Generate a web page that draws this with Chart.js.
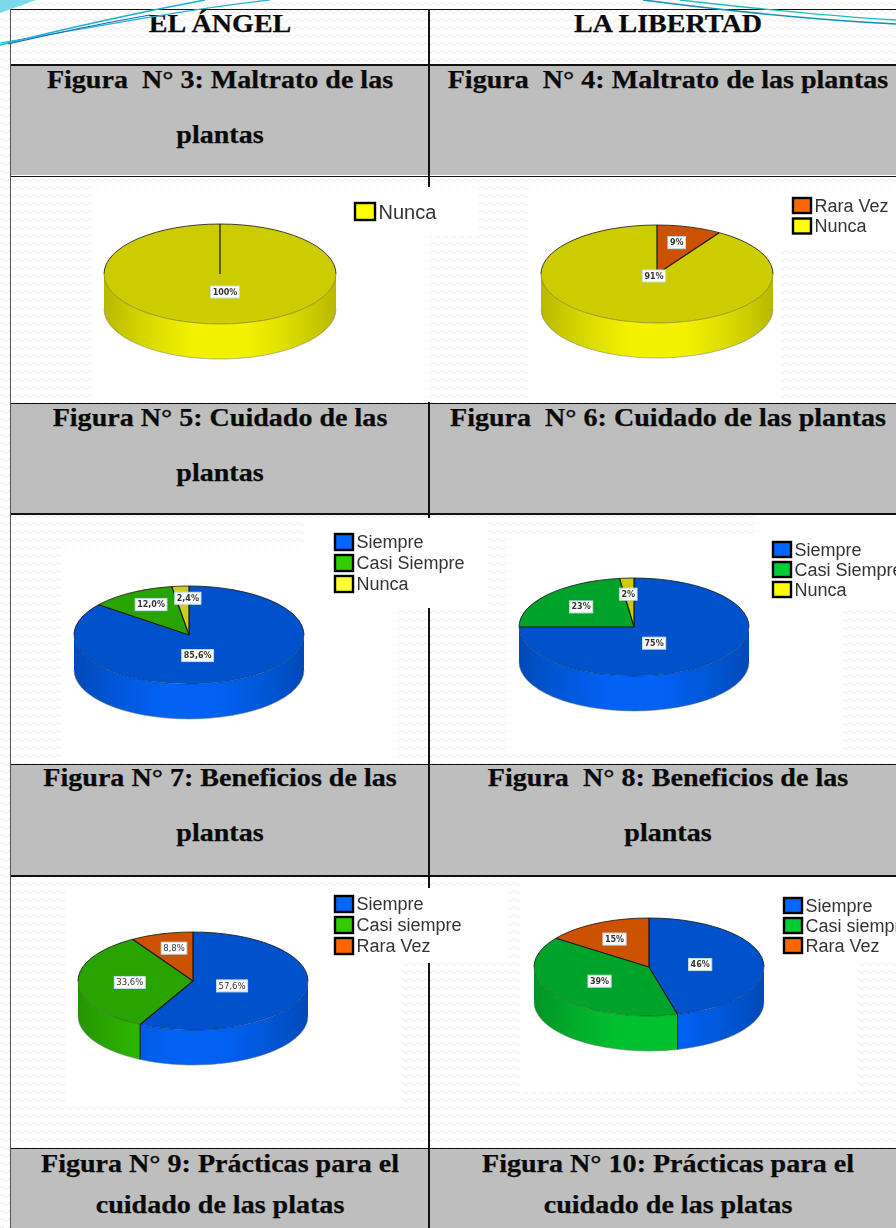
<!DOCTYPE html>
<html lang="es"><head><meta charset="utf-8">
<script src="https://cdn.jsdelivr.net/npm/chart.js@4/dist/chart.umd.min.js"></script>
<style>
html,body{margin:0;padding:0;width:896px;height:1228px;overflow:hidden;background:#fff}
#page{position:relative;width:896px;height:1228px;overflow:hidden;
background-image:url("data:image/svg+xml,%3Csvg xmlns='http://www.w3.org/2000/svg' width='8' height='8'%3E%3Cpath d='M0 4 Q2 1 4 4 T8 4' stroke='%23e9e9e9' stroke-width='1' fill='none'/%3E%3C/svg%3E")}
.abs{position:absolute}
.cap{position:absolute;white-space:pre;font:bold 25px "Liberation Serif",serif;color:#0a0a0a;line-height:30px;-webkit-text-stroke:.25px #0a0a0a;transform:translate(-50%,-50%) scaleX(1.122)}
canvas{position:absolute}
svg.deco{position:absolute;left:0;top:0}
</style></head><body><div id="page"></div>
<script>
// ---- data ----
const fig3Labels=["Nunca"];                       const fig3Values=[100];           const fig3Text=["100%"];
const fig4Labels=["Rara Vez","Nunca"];            const fig4Values=[9,91];          const fig4Text=["9%","91%"];
const fig5Labels=["Siempre","Casi Siempre","Nunca"]; const fig5Values=[85.6,12,2.4]; const fig5Text=["85,6%","12,0%","2,4%"];
const fig6Labels=["Siempre","Casi Siempre","Nunca"]; const fig6Values=[75,23,2];     const fig6Text=["75%","23%","2%"];
const fig7Labels=["Siempre","Casi siempre","Rara Vez"]; const fig7Values=[57.6,33.6,8.8]; const fig7Text=["57,6%","33,6%","8,8%"];
const fig8Labels=["Siempre","Casi siempre","Rara Vez"]; const fig8Values=[46,39,15];  const fig8Text=["46%","39%","15%"];
const headerTexts=["EL ÁNGEL","LA LIBERTAD"];
const captionTexts=[
 ["Figura  N° 3: Maltrato de las",220,80],["plantas",220,135],["Figura  N° 4: Maltrato de las plantas",668,80],
 ["Figura N° 5: Cuidado de las",220,418],["plantas",220,473],["Figura  N° 6: Cuidado de las plantas",668,418],
 ["Figura N° 7: Beneficios de las",220,778],["plantas",220,833],["Figura  N° 8: Beneficios de las",668,778],["plantas",668,833],
 ["Figura N° 9: Prácticas para el",220,1164],["cuidado de las platas",220,1205],
 ["Figura N° 10: Prácticas para el",668,1164],["cuidado de las platas",668,1205]
];
// ---- styling ----
const SIEMPRE="#0066ff",NUNCA="#ffff00",NUNCA2="#ffff33",RARA="#ff6600",CASI_A="#33cc00",CASI_B="#00cc33";
const layouts=[
 {labels:fig3Labels,values:fig3Values,text:fig3Text,colors:[NUNCA],cx:220,cy:274,rx:116,ry:50,legend:[354,202],step:20,lfont:20,swH:19,swW:22,
  anchors:[[.043,.36]],lab:"bold 8px 'DejaVu Sans'"},
 {labels:fig4Labels,values:fig4Values,text:fig4Text,colors:[RARA,NUNCA],cx:657,cy:274,rx:116,ry:49,legend:[792,197],step:20.5,lfont:18,swH:17,swW:20,
  anchors:[[.17,-.64],[-.026,.04]],lab:"bold 8px 'DejaVu Sans'"},
 {labels:fig5Labels,values:fig5Values,text:fig5Text,colors:[SIEMPRE,CASI_A,NUNCA2],cx:189,cy:635,rx:115,ry:49,legend:[334,533],step:21,lfont:18,swH:18,swW:20,
  anchors:[[.075,.42],[-.33,-.62],[-.01,-.75]],lab:"bold 8px 'DejaVu Sans'"},
 {labels:fig6Labels,values:fig6Values,text:fig6Text,colors:[SIEMPRE,CASI_B,NUNCA],cx:634,cy:627,rx:115,ry:49,legend:[772,541],step:20,lfont:18,swH:17,swW:20,
  anchors:[[.175,.33],[-.46,-.41],[-.05,-.67]],lab:"bold 8px 'DejaVu Sans'"},
 {labels:fig7Labels,values:fig7Values,text:fig7Text,colors:[SIEMPRE,CASI_A,RARA],cx:193,cy:981,rx:115,ry:49,legend:[334,895],step:21,lfont:18,swH:18,swW:20,
  anchors:[[.34,.1],[-.55,.03],[-.165,-.67]],lab:"8.5px 'DejaVu Sans'"},
 {labels:fig8Labels,values:fig8Values,text:fig8Text,colors:[SIEMPRE,CASI_B,RARA],cx:649,cy:967,rx:115,ry:49,legend:[783,897],step:20,lfont:18,swH:17,swW:20,
  anchors:[[.445,-.05],[-.43,.29],[-.3,-.57]],lab:"bold 8px 'DejaVu Sans'"}
];
const DEPTH=35,CW=600,CH=240;
const whiteRects=[[92,187,338,215],[340,187,139,49],[528,187,253,211],[781,187,115,61],
 [61,547,337,215],[303,518,185,90],[506,538,337,214],[754,515,142,93],
 [65,890,337,217],[310,888,198,75],[519,877,339,215],[858,877,38,86]];
const greyRows=[[64,111],[403,110],[764,111],[1148,80]];
const hLines=[8.5,64,175.5,402.5,513,763.5,875,1147.5];

function shade(hex,f){const n=parseInt(hex.slice(1),16);
 return `rgb(${Math.round((n>>16&255)*f)},${Math.round((n>>8&255)*f)},${Math.round((n&255)*f)})`;}
const page=document.getElementById("page");
function box(x,y,w,h,c){const d=document.createElement("div");d.className="abs";
 d.style.cssText=`left:${x}px;top:${y}px;width:${w}px;height:${h}px;background:${c}`;page.appendChild(d);}

greyRows.forEach(r=>box(10,r[0],886,r[1],"#bebebe"));
hLines.forEach(y=>box(10,y,886,1.5,"#111"));
box(10,8.5,1.2,1220,"#555");
box(428,8.5,2,1220,"#111");
whiteRects.forEach(r=>box(r[0],r[1],r[2],r[3],"#fff"));

function addCap(t,x,y){const d=document.createElement("div");d.className="cap";d.textContent=t;
 d.style.left=x+"px";d.style.top=y+"px";page.appendChild(d);}
addCap(headerTexts[0],220,24);addCap(headerTexts[1],668,24);
captionTexts.forEach(c=>addCap(c[0],c[1],c[2]));

page.insertAdjacentHTML("beforeend",`<svg class="deco" width="896" height="60" fill="none">
<path d="M0 0H36L0 13Z" fill="#7bd9e8"/>
<path d="M0 45C60 30 130 14 205 0" stroke="#1fb4cc" stroke-width="1.6"/>
<path d="M0 43C90 28 180 10 270 0" stroke="#1fb4cc" stroke-width="1.2"/>
<path d="M8 44C60 32 110 22 150 15" stroke="#1560c8" stroke-width="1.2"/>
<path d="M643 0C720 10 820 20 896 24" stroke="#1590b8" stroke-width="1.6"/>
<path d="M680 0C750 8 830 16 896 20" stroke="#1cc0b8" stroke-width="1.4"/>
</svg>`);

function pie3d(L){return {id:"pie3d",
 beforeDatasetsDraw(chart){
  const ctx=chart.ctx,arcs=chart.getDatasetMeta(0).data;
  arcs.forEach((arc,i)=>{
   const a=Math.max(arc.startAngle,0),b=Math.min(arc.endAngle,Math.PI);
   if(b<=a)return;
   const g=ctx.createLinearGradient(arc.x-L.rx,0,arc.x+L.rx,0),c=L.colors[i];
   [[0,.72],[.08,.78],[.2,.86],[.38,.95],[.62,.95],[.8,.86],[.92,.78],[1,.72]].forEach(s=>g.addColorStop(s[0],shade(c,s[1])));
   ctx.save();ctx.beginPath();
   ctx.ellipse(arc.x,arc.y,L.rx,L.ry,0,a,b);
   ctx.ellipse(arc.x,arc.y+DEPTH,L.rx,L.ry,0,b,a,true);
   ctx.closePath();ctx.fillStyle=g;ctx.fill();
   if(arc.startAngle>0&&arc.startAngle<Math.PI){
    const px=arc.x+L.rx*Math.cos(arc.startAngle),py=arc.y+L.ry*Math.sin(arc.startAngle);
    ctx.beginPath();ctx.moveTo(px,py);ctx.lineTo(px,py+DEPTH);ctx.strokeStyle="#111";ctx.lineWidth=1;ctx.stroke();
   }
   ctx.restore();
  });
  ctx.beginPath();ctx.ellipse(arcs[0].x,arcs[0].y+DEPTH,L.rx,L.ry,0,0,Math.PI);
  ctx.strokeStyle="rgba(120,120,120,.5)";ctx.lineWidth=1;ctx.stroke();
  ctx.save();
  ctx.translate(arcs[0].x,arcs[0].y);ctx.scale(1,L.ry/L.rx);ctx.translate(-arcs[0].x,-arcs[0].y);
 },
 afterDatasetsDraw(chart){
  const ctx=chart.ctx,arcs=chart.getDatasetMeta(0).data;
  ctx.restore();
  const cx=arcs[0].x,cy=arcs[0].y;
  ctx.save();
  ctx.beginPath();ctx.ellipse(cx,cy,L.rx,L.ry,0,Math.PI,2*Math.PI);ctx.strokeStyle="rgba(20,20,20,.8)";ctx.lineWidth=1;ctx.stroke();
  ctx.beginPath();ctx.ellipse(cx,cy,L.rx,L.ry,0,0,Math.PI);ctx.strokeStyle="rgba(20,20,20,.4)";ctx.lineWidth=.8;ctx.stroke();
  arcs.forEach(arc=>{
   ctx.beginPath();ctx.moveTo(cx,cy);
   ctx.lineTo(cx+L.rx*Math.cos(arc.startAngle),cy+L.ry*Math.sin(arc.startAngle));
   ctx.strokeStyle="#141414";ctx.lineWidth=1.2;ctx.stroke();
  });
  // value labels
  ctx.font=L.lab;ctx.textAlign="center";ctx.textBaseline="middle";
  L.text.forEach((t,i)=>{
   const x=cx+L.anchors[i][0]*L.rx,y=cy+L.anchors[i][1]*L.ry,w=ctx.measureText(t).width+4,h=12;
   ctx.fillStyle="#fff";ctx.fillRect(x-w/2,y-h/2,w,h);
   ctx.strokeStyle="#c5dfe6";ctx.lineWidth=1;ctx.strokeRect(x-w/2,y-h/2,w,h);
   ctx.fillStyle="#333";ctx.fillText(t,x,y+.5);
  });
  // legend
  const ox=L.legend[0]-(L.cx-CW/2),oy=L.legend[1]-(L.cy-CH/2);
  L.labels.forEach((t,i)=>{
   const y=oy+i*L.step;
   ctx.fillStyle=L.colors[i];ctx.fillRect(ox+1,y+1,L.swW-2,L.swH-2);
   ctx.strokeStyle="#000";ctx.lineWidth=2.4;ctx.strokeRect(ox+1,y+1,L.swW-2,L.swH-2);
   ctx.fillStyle="#333";ctx.font=L.lfont+"px 'Liberation Sans'";ctx.textAlign="left";ctx.textBaseline="middle";
   ctx.fillText(t,ox+L.swW+2.5,y+L.swH/2+1.5);
  });
  ctx.restore();
 }};}

layouts.forEach(L=>{
 const cv=document.createElement("canvas");cv.width=CW;cv.height=CH;
 cv.style.cssText=`left:${L.cx-CW/2}px;top:${L.cy-CH/2}px;width:${CW}px;height:${CH}px`;
 page.appendChild(cv);
 new Chart(cv.getContext("2d"),{type:"pie",
  data:{labels:L.labels,datasets:[{data:L.values,backgroundColor:L.colors.map(c=>shade(c,.8)),borderWidth:0,clip:false}]},
  options:{responsive:false,animation:false,devicePixelRatio:1,radius:L.rx,rotation:0,
   layout:{padding:0},plugins:{legend:{display:false},tooltip:{enabled:false}}},
  plugins:[pie3d(L)]});
});
</script></body></html>
